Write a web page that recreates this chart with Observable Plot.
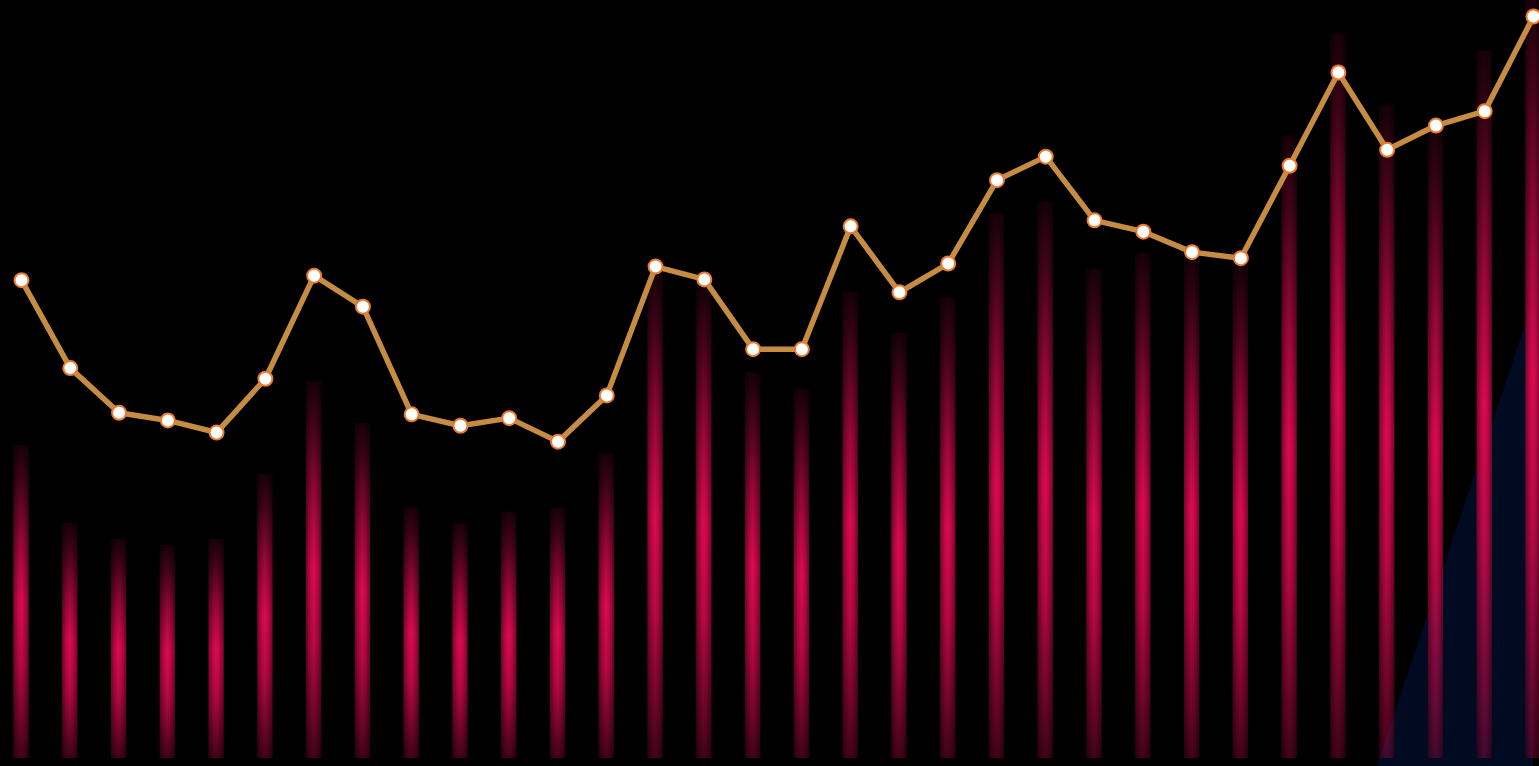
<!DOCTYPE html>
<html>
<head>
<meta charset="utf-8">
<script src="https://cdn.jsdelivr.net/npm/d3@7"></script>
<script src="https://cdn.jsdelivr.net/npm/@observablehq/plot@0.6"></script>
<style>
  html, body { margin: 0; padding: 0; background: #000; overflow: hidden; }
  #chart svg { display: block; background: #000; overflow: hidden; }
</style>
</head>
<body>
<div id="chart"></div>
<script>
const categories = ["P01","P02","P03","P04","P05","P06","P07","P08","P09","P10","P11","P12","P13","P14","P15","P16",
                    "P17","P18","P19","P20","P21","P22","P23","P24","P25","P26","P27","P28","P29","P30","P31","P32"];
const barValues = [41.3, 31.0, 28.9, 28.1, 28.9, 37.5, 49.7, 44.2, 33.1, 31.0, 32.5, 33.0, 40.2, 63.7, 62.0, 50.8,
                   48.7, 61.5, 56.1, 60.8, 71.9, 73.4, 64.5, 66.6, 65.7, 65.0, 82.1, 95.6, 86.1, 83.1, 93.3, 101.0];
const lineValues = [63.1, 51.5, 45.6, 44.6, 43.0, 50.1, 63.7, 59.6, 45.4, 43.9, 44.9, 41.8, 47.9, 64.9, 63.2, 54.0,
                    54.0, 70.2, 61.5, 65.3, 76.3, 79.4, 71.0, 69.5, 66.8, 66.0, 78.2, 90.5, 80.3, 83.5, 85.4, 97.9];
const areaValues = [null, null, null, null, null, null, null, null, null, null, null, null, null, null, null, null,
                    null, null, null, null, null, null, null, null, null, null, null, -16.2, 2.9, 22.0, 41.2, 60.2];

const data = categories.map((c, i) => ({cat: c, bar: barValues[i], line: lineValues[i], area: areaValues[i]}));
const areaData = data.filter(d => d.area != null);

const W = 1539, H = 766;
const step = (1533 - 21) / (categories.length - 1);

const chart = Plot.plot({
  width: W,
  height: H,
  margin: 0,
  style: {background: "#000", overflow: "hidden"},
  x: {type: "band", domain: categories, range: [21 - step / 2, 1533 + step / 2], paddingInner: 0.69, paddingOuter: 0.345, round: false, axis: null},
  y: {domain: [-1.06, 100], range: [H, 0], axis: null},
  marks: [
    Plot.areaY(areaData, {x: "cat", y1: -40, y2: "area", fill: "#000a20", clip: true, curve: "linear"}),
    Plot.barY(data, {x: "cat", y1: 0, y2: "bar", fill: "url(#barV)", clip: true}),
    Plot.barY(data, {x: "cat", y1: 0, y2: "bar", fill: "url(#barH)", clip: true}),
    Plot.lineY(data, {x: "cat", y: "line", stroke: "#c68d42", strokeWidth: 5.5, strokeLinejoin: "round"}),
    Plot.dot(data, {x: "cat", y: "line", r: 7, fill: "#fff", stroke: "#ec7a2c", strokeWidth: 2})
  ]
});

const svg = d3.select(chart);
const defs = svg.insert("defs", ":first-child");
const gv = defs.append("linearGradient").attr("id", "barV").attr("x1", 0).attr("y1", 0).attr("x2", 0).attr("y2", 1);
[[0, 0.1], [0.12, 0.3], [0.3, 0.65], [0.5, 0.95], [0.7, 0.8], [0.88, 0.5], [1, 0.28]].forEach(([o, a]) =>
  gv.append("stop").attr("offset", o).attr("stop-color", "#ea0a55").attr("stop-opacity", a));
const gh = defs.append("linearGradient").attr("id", "barH").attr("x1", 0).attr("y1", 0).attr("x2", 1).attr("y2", 0);
[[0, 0.45], [0.3, 0.12], [0.5, 0], [0.7, 0.12], [1, 0.45]].forEach(([o, a]) =>
  gh.append("stop").attr("offset", o).attr("stop-color", "#000").attr("stop-opacity", a));

document.getElementById("chart").appendChild(chart);
</script>
</body>
</html>
